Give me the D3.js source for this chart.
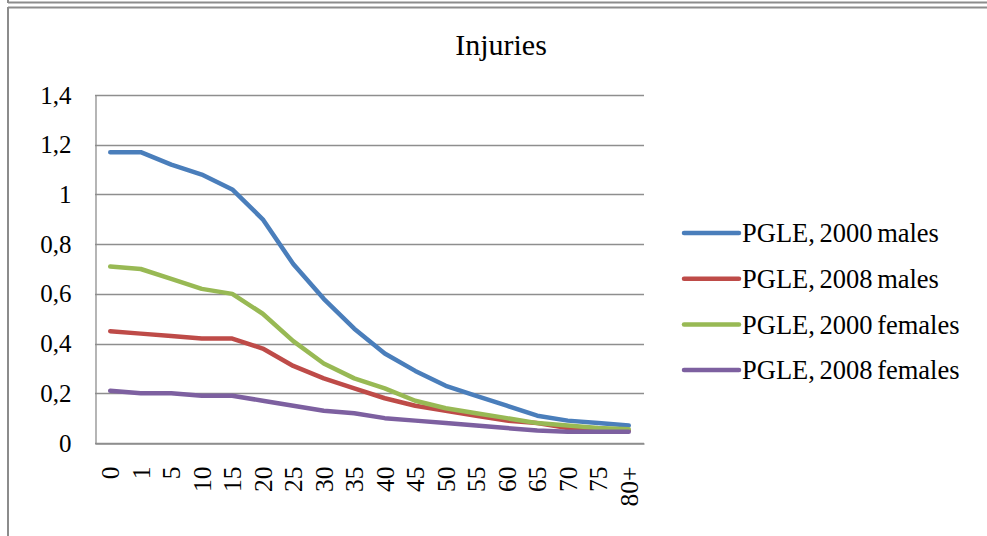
<!DOCTYPE html>
<html>
<head>
<meta charset="utf-8">
<script src="https://cdn.jsdelivr.net/npm/d3@7"></script>
<style>
  html, body { margin: 0; padding: 0; background: #fff; }
  svg { display: block; }
  text { font-family: "Liberation Serif", "Times New Roman", serif; fill: #000; }
</style>
</head>
<body>
<svg id="chart" width="987" height="536"></svg>
<script>
// Age groups (x axis)
const ages = ["0", "1", "5", "10", "15", "20", "25", "30", "35", "40", "45", "50", "55", "60", "65", "70", "75", "80+"];

// PGLE values per age group
const males2000   = [1.17, 1.17, 1.12, 1.08, 1.02, 0.90, 0.72, 0.58, 0.46, 0.36, 0.29, 0.23, 0.19, 0.15, 0.11, 0.09, 0.08, 0.07];
const males2008   = [0.45, 0.44, 0.43, 0.42, 0.42, 0.38, 0.31, 0.26, 0.22, 0.18, 0.15, 0.13, 0.11, 0.09, 0.08, 0.06, 0.05, 0.05];
const females2000 = [0.71, 0.70, 0.66, 0.62, 0.60, 0.52, 0.41, 0.32, 0.26, 0.22, 0.17, 0.14, 0.12, 0.10, 0.08, 0.07, 0.06, 0.055];
const females2008 = [0.21, 0.20, 0.20, 0.19, 0.19, 0.17, 0.15, 0.13, 0.12, 0.10, 0.09, 0.08, 0.07, 0.06, 0.05, 0.045, 0.045, 0.045];

const seriesNames = ["PGLE, 2000 males", "PGLE, 2008 males", "PGLE, 2000 females", "PGLE, 2008 females"];
const seriesColors = ["#4a7ebb", "#be4b48", "#98b954", "#7d60a0"];
const yTicks = [0, 0.2, 0.4, 0.6, 0.8, 1, 1.2, 1.4];

const series = [males2000, males2008, females2000, females2008].map((values, i) => ({
  name: seriesNames[i], color: seriesColors[i], values
}));

const svg = d3.select("#chart");
const plot = { left: 95, right: 644, top: 95, bottom: 443 };

// Frame lines of the surrounding box
const frame = svg.append("g").attr("stroke", "#8c8c8c").attr("stroke-width", 2).attr("fill", "none");
frame.append("line").attr("x1", 8).attr("x2", 987).attr("y1", 2.5).attr("y2", 2.5);
frame.append("line").attr("x1", 8).attr("x2", 8).attr("y1", 0).attr("y2", 3);
frame.append("line").attr("x1", 8).attr("x2", 987).attr("y1", 7.5).attr("y2", 7.5);
frame.append("line").attr("x1", 8).attr("x2", 8).attr("y1", 7).attr("y2", 536);

const x = d3.scaleBand().domain(ages).range([plot.left, plot.right]);
const y = d3.scaleLinear().domain([0, 1.4]).range([plot.bottom, plot.top]);
const fmt = v => d3.format("~g")(v).replace(".", ",");

// Horizontal gridlines
svg.append("g")
  .selectAll("line")
  .data(yTicks)
  .join("line")
  .attr("x1", plot.left).attr("x2", plot.right)
  .attr("y1", d => Math.round(y(d)) + 0.5).attr("y2", d => Math.round(y(d)) + 0.5)
  .attr("stroke", "#8e8e8e").attr("stroke-width", 1.3);

// Y axis
const yAxis = svg.append("g")
  .attr("transform", `translate(${plot.left + 0.5},0)`)
  .call(d3.axisLeft(y).tickValues(yTicks).tickFormat(fmt).tickSize(0).tickPadding(24));
yAxis.select(".domain").attr("stroke", "#8e8e8e").attr("stroke-width", 1.3);
yAxis.selectAll("text")
  .attr("font-family", "Liberation Serif")
  .attr("font-size", 25)
  .attr("fill", "#000");

// X axis
const xAxis = svg.append("g")
  .attr("transform", `translate(0,${plot.bottom + 0.5})`)
  .call(d3.axisBottom(x).tickSize(0).tickPadding(0));
xAxis.select(".domain").attr("stroke", "#8e8e8e").attr("stroke-width", 1.3);
xAxis.selectAll("text")
  .attr("font-family", "Liberation Serif")
  .attr("font-size", 25.5)
  .attr("fill", "#000")
  .attr("text-anchor", "end")
  .attr("dy", "0.35em")
  .attr("transform", "translate(0,23) rotate(-90)")
  .attr("x", 0).attr("y", 0);

// Series lines
const line = d3.line()
  .x((d, i) => x(ages[i]) + x.bandwidth() / 2)
  .y(d => y(d));

svg.append("g")
  .selectAll("path")
  .data(series)
  .join("path")
  .attr("d", d => line(d.values))
  .attr("fill", "none")
  .attr("stroke", d => d.color)
  .attr("stroke-width", 4.5)
  .attr("stroke-linejoin", "round")
  .attr("stroke-linecap", "round");

// Title
svg.append("text")
  .attr("x", 501).attr("y", 55)
  .attr("text-anchor", "middle")
  .attr("font-size", 30)
  .text("Injuries");

// Legend
const legend = svg.append("g")
  .selectAll("g")
  .data(series)
  .join("g")
  .attr("transform", (d, i) => `translate(684,${233 + i * 45.7})`);
legend.append("line")
  .attr("x1", 0).attr("x2", 55)
  .attr("stroke", d => d.color)
  .attr("stroke-width", 4.5)
  .attr("stroke-linecap", "round");
legend.append("text")
  .attr("x", 58).attr("dy", "0.35em")
  .attr("font-size", 26.5)
  .attr("word-spacing", -2)
  .text(d => d.name);
</script>
</body>
</html>
